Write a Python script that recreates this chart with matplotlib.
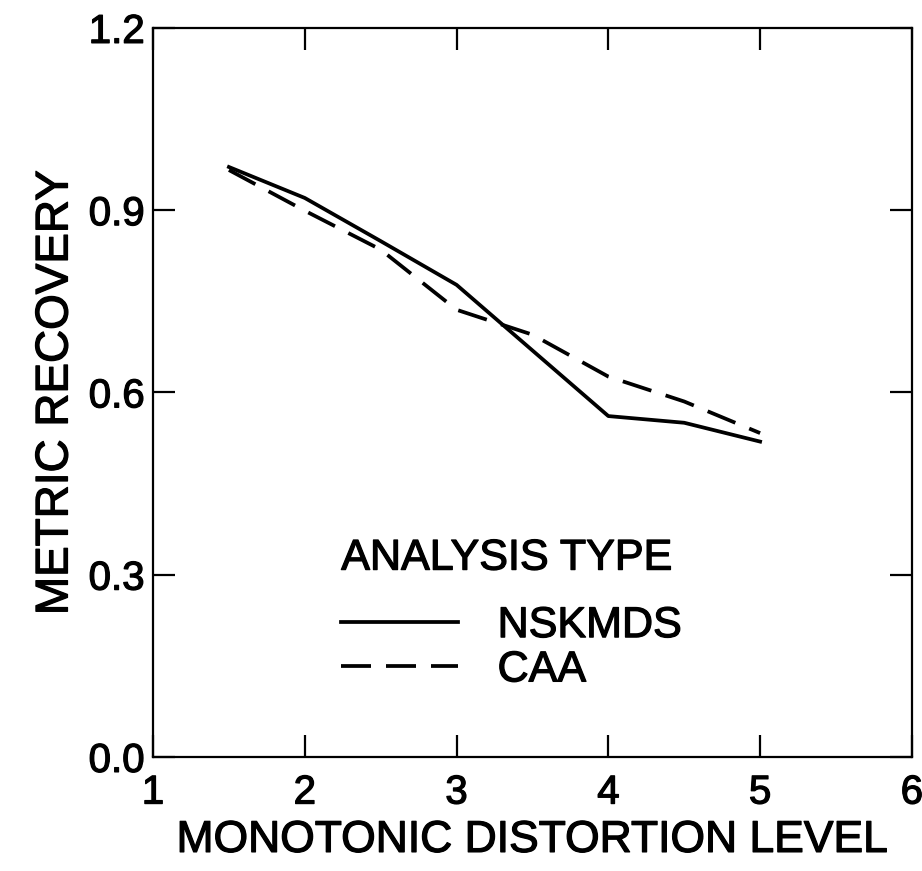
import matplotlib
matplotlib.use("Agg")
import matplotlib.pyplot as plt
import matplotlib.patheffects as pe
from matplotlib.lines import Line2D

# values
levels = [1.5, 2.0, 2.5, 3.0, 3.5, 4.0, 4.5, 5.0]
nskmds = [0.971, 0.920, 0.849, 0.777, 0.669, 0.561, 0.550, 0.519]
caa = [0.966, 0.899, 0.835, 0.736, 0.695, 0.626, 0.585, 0.533]

x_ticks = [1, 2, 3, 4, 5, 6]
y_ticks = [0.0, 0.3, 0.6, 0.9, 1.2]

plt.rcParams['font.family'] = ['Liberation Sans', 'DejaVu Sans']

# slightly heavier strokes, like the scanned lettering
thick = [pe.withStroke(linewidth=0.9, foreground='black')]

fig = plt.figure(figsize=(9.22, 8.71), dpi=100)
ax = fig.add_axes([0.166, 0.131, 0.823, 0.837])

lw = 2.7
dash = (0, (8, 4))
ax.plot(levels, nskmds, color='black', lw=lw, linestyle='-')
ax.plot(levels, caa, color='black', lw=lw, linestyle=dash)

ax.set_xlim(1, 6)
ax.set_ylim(0, 1.2)
ax.set_xticks(x_ticks)
ax.set_yticks(y_ticks)
ax.set_xticklabels([str(t) for t in x_ticks])
ax.set_yticklabels([f"{t:.1f}" for t in y_ticks])

for s in ax.spines.values():
    s.set_linewidth(1.6)

ax.tick_params(axis='both', direction='in', length=16, width=1.6,
               top=True, right=True, labelsize=29)
ax.tick_params(axis='x', pad=12)
ax.tick_params(axis='y', pad=6)
for lab in ax.get_xticklabels() + ax.get_yticklabels():
    lab.set_path_effects(thick)

xl = ax.set_xlabel('MONOTONIC DISTORTION LEVEL', fontsize=32, labelpad=6)
yl = ax.set_ylabel('METRIC RECOVERY', fontsize=33, labelpad=8)
xl.set_path_effects(thick)
yl.set_path_effects(thick)

# legend
ax.text(0.248, 0.272, 'ANALYSIS TYPE', transform=ax.transAxes,
        fontsize=31, va='center', ha='left', path_effects=thick)
handles = [Line2D([], [], color='black', lw=lw, linestyle='-'),
           Line2D([], [], color='black', lw=lw, linestyle=dash)]
leg = ax.legend(handles, ['NSKMDS', 'CAA'], loc='upper left',
                bbox_to_anchor=(0.197, 0.26), frameon=False, fontsize=31,
                handlelength=2.7, handletextpad=0.93, labelspacing=0.1)
for t in leg.get_texts():
    t.set_path_effects(thick)

fig.savefig('out.png', dpi=100)
